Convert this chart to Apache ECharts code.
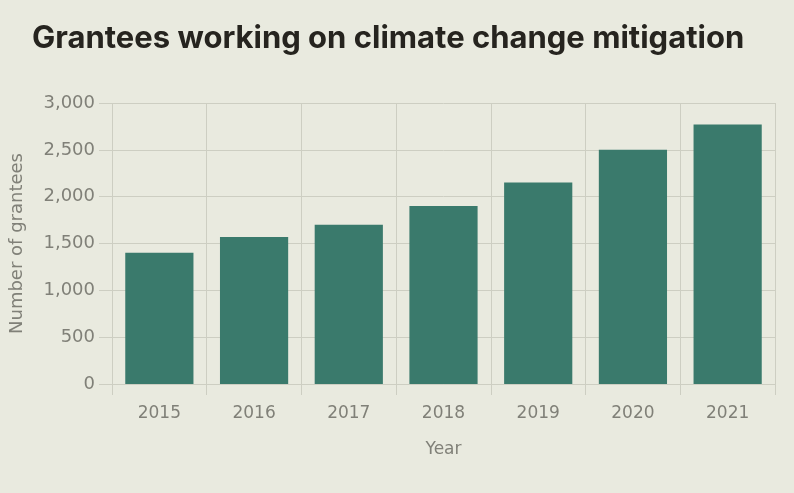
<!DOCTYPE html>
<html>
<head>
<meta charset="utf-8">
<script src="https://cdn.jsdelivr.net/npm/echarts@6/dist/echarts.min.js"></script>
<style>
  html, body { margin: 0; padding: 0; background: #e9eadf; }
  #chart { width: 794px; height: 493px; }
</style>
</head>
<body>
<div id="chart"></div>
<script>
// Data
var years = ['2015', '2016', '2017', '2018', '2019', '2020', '2021'];
var grantees = [1400, 1570, 1700, 1900, 2150, 2500, 2770];

var gridColor = '#cdcec2';
var labelColor = '#808078';
var labelFont = 'DejaVu Sans';

var myChart = echarts.init(document.getElementById('chart'));

var option = {
    backgroundColor: '#e9eadf',
    title: {
        text: 'Grantees working on climate change mitigation',
        left: 27,
        top: 18,
        textStyle: {
            fontFamily: 'Inter',
            fontWeight: 'bold',
            fontSize: 31,
            color: '#26241f'
        }
    },
    grid: {
        left: 110,
        right: 19,
        top: 103,
        bottom: 109
    },
    xAxis: {
        type: 'category',
        data: years,
        name: 'Year',
        nameLocation: 'middle',
        nameGap: 57,
        nameTextStyle: { fontFamily: labelFont, fontSize: 17, color: labelColor },
        axisLine: { show: true, lineStyle: { color: gridColor, width: 1 } },
        axisTick: { show: true, length: 11, lineStyle: { color: gridColor } },
        splitLine: { show: true, lineStyle: { color: gridColor, width: 1 } },
        axisLabel: { fontFamily: labelFont, fontSize: 17, color: labelColor, margin: 21 }
    },
    yAxis: {
        type: 'value',
        min: 0,
        max: 3000,
        interval: 500,
        name: 'Number of grantees',
        nameLocation: 'middle',
        nameGap: 86,
        nameTextStyle: { fontFamily: labelFont, fontSize: 18, color: labelColor },
        axisLine: { show: false },
        axisTick: { show: true, length: 13, lineStyle: { color: gridColor } },
        splitLine: { show: true, lineStyle: { color: gridColor, width: 1 } },
        axisLabel: {
            fontFamily: labelFont,
            fontSize: 18,
            color: labelColor,
            margin: 17,
            formatter: function (v) { return v.toLocaleString('en-US'); }
        }
    },
    series: [
        {
            type: 'bar',
            data: grantees,
            barCategoryGap: '28%',
            itemStyle: { color: '#3a7a6c' },
            silent: true
        }
    ]
};

myChart.setOption(option);

window.onresize = function () {
    myChart.resize();
};
</script>
</body>
</html>
